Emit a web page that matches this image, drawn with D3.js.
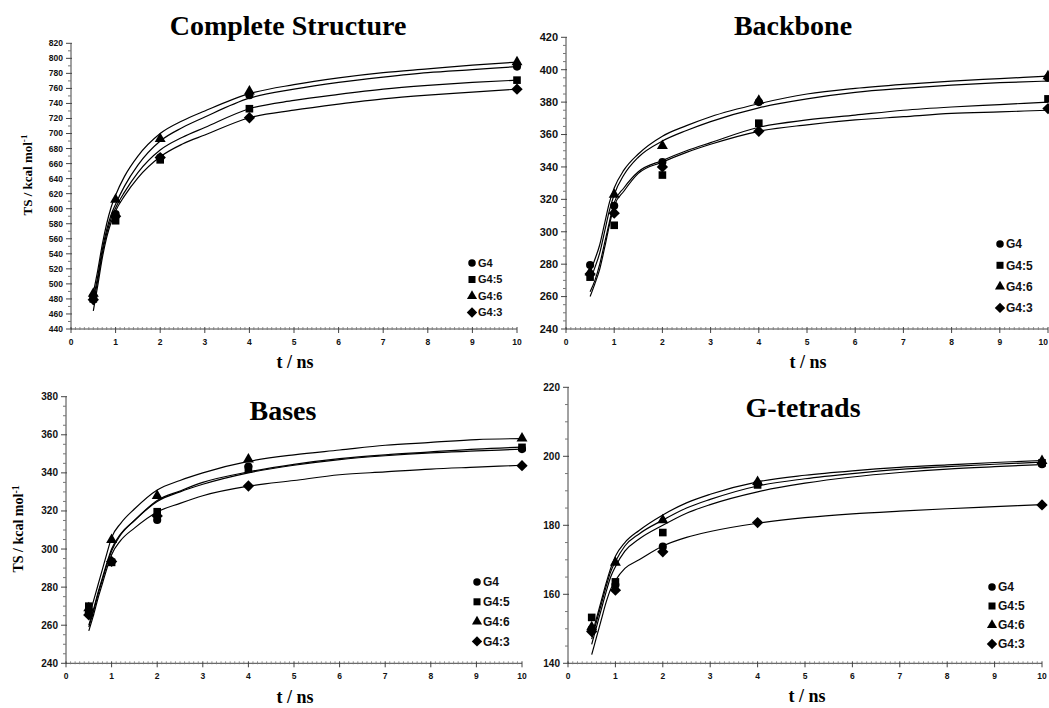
<!DOCTYPE html>
<html>
<head>
<meta charset="utf-8">
<script src="https://cdn.jsdelivr.net/npm/d3@7"></script>
<style>
  html, body { margin: 0; padding: 0; background: #fff; }
  svg { display: block; }
  .tick-label { font-family: "Liberation Sans", Arial, sans-serif; font-weight: bold; fill: #111; }
  .serif { font-family: "Liberation Serif", "Times New Roman", serif; font-weight: bold; fill: #000; }
</style>
</head>
<body>
<script>
// series order everywhere: G4, G4:5, G4:6, G4:3
const seriesNames = ["G4", "G4:5", "G4:6", "G4:3"];
const pointTimes = [0.5, 1, 2, 4, 10];
const fitTimes = [0.5, 0.6, 0.7, 0.8, 0.9, 1, 1.2, 1.5, 2, 2.5, 3, 4, 5, 6, 7, 8, 9, 10];

const completePoints = [
  [483, 593, 668, 751, 789],
  [480, 584, 665, 733, 771],
  [487, 612, 693, 756, 795],
  [479, 590, 668, 721, 759]
];
const completeFits = [
  [480, 510, 545, 572, 592, 606, 630, 658, 690, 708, 722, 747, 759, 768, 775, 781, 785, 789],
  [472, 505, 540, 567, 587, 601, 622, 648, 678, 695, 708, 733, 744, 752, 759, 764, 768, 771],
  [488, 518, 552, 580, 602, 618, 643, 670, 700, 717, 730, 753, 765, 774, 781, 786, 791, 795],
  [464, 498, 534, 562, 582, 597, 617, 641, 669, 686, 698, 721, 731, 739, 746, 751, 755, 759]
];

const backbonePoints = [
  [279.5, 316, 343, 380, 395],
  [272, 304, 335, 367, 382],
  [275, 323, 353, 381, 396],
  [274, 311.5, 340, 362, 376]
];
const backboneFits = [
  [270, 278, 287, 300, 313, 323, 335, 346, 356, 362.5, 368, 376.5, 382, 386, 388.5, 390.5, 392, 393],
  [263, 270, 280, 293, 306, 318, 327, 337, 344, 350, 355, 364.5, 369, 372, 375, 377, 378.5, 380],
  [275, 283, 292, 305, 318, 327, 338, 348, 359, 365.5, 371, 379, 385, 388.5, 391, 393, 394.5, 396],
  [260, 268, 277, 290, 304, 316, 325, 336, 343, 349, 354, 362, 366, 369, 371, 373, 374, 375]
];

const basesPoints = [
  [266.6, 293.4, 315.3, 343.3, 352.5],
  [270, 293, 319.6, 342, 353.4],
  [269, 304.8, 327.9, 347.1, 358.2],
  [265.4, 293.5, 317.4, 333.1, 343.8]
];
const basesFits = [
  [260, 268, 277, 285, 293, 300, 308, 315, 325, 330, 334, 340, 344, 347, 349, 350.5, 351.5, 352.5],
  [259, 267, 276, 284, 292, 299, 307.5, 315, 325.5, 330.5, 335, 340.5, 344.5, 347.5, 349.5, 351, 352.5, 353.5],
  [264, 272.5, 281, 289.5, 298, 306, 313.5, 321, 331, 336, 340, 346, 349.5, 352, 354.5, 356, 357.5, 358],
  [257, 265, 274, 282, 290, 297, 304.5, 311, 319.5, 324, 328, 333, 336, 339, 340.5, 342, 343, 344]
];

const tetradPoints = [
  [149.9, 162.7, 173.8, 192, 197.7],
  [153.3, 163.6, 177.9, 191.7, 198.1],
  [150.5, 169.2, 181.5, 192.6, 198.7],
  [149.2, 161.2, 172.3, 180.8, 185.9]
];
const tetradFits = [
  [145.5, 150.5, 155.5, 160.5, 165, 168, 172.5, 176, 180, 183.5, 186, 189.7, 192.2, 194, 195.3, 196.3, 197, 197.6],
  [147, 152, 157, 162, 166.5, 169.5, 174, 177.5, 181.5, 185, 187.5, 191.4, 193.5, 195, 196.2, 197, 197.7, 198.3],
  [148, 153, 158, 163, 167.5, 171, 175, 178.5, 183, 186.5, 189, 192.6, 194.5, 195.8, 196.8, 197.5, 198.2, 198.8],
  [142.5, 147.5, 152.5, 157.5, 161.5, 164, 167.5, 170, 174, 176.5, 178.2, 180.6, 182.2, 183.3, 184.1, 184.8, 185.4, 186]
];

const W = 1049, H = 708;

const svg = d3.select("body").append("svg")
  .attr("width", W)
  .attr("height", H);

// wide diamond, like the spreadsheet marker
const wideDiamond = {
  draw(ctx, size) {
    const r = Math.sqrt(size / 2);
    ctx.moveTo(0, -r); ctx.lineTo(r, 0); ctx.lineTo(0, r); ctx.lineTo(-r, 0); ctx.closePath();
  }
};
const symbolTypes = [d3.symbolCircle, d3.symbolSquare, d3.symbolTriangle, wideDiamond];
const symbolSizes = [52, 58, 52, 64];

const panels = [
  { title: "Complete Structure", points: completePoints, fits: completeFits,
    x0: 71, x1: 517, yTop: 43.3, yBot: 329, yDomain: [440, 820], major: 20, minor: 10,
    yFont: 8.5, titleX: 288, titleY: 35, xlabY: 368, xlabX: 295, ylab: { x: 27, y: 175, size: 13 },
    legend: { x: 472, y: 263, dy: 16.5, size: 11 } },
  { title: "Backbone", points: backbonePoints, fits: backboneFits,
    x0: 566, x1: 1048, yTop: 37.3, yBot: 329, yDomain: [240, 420], major: 20, minor: 5,
    yFont: 11, titleX: 793, titleY: 35, xlabY: 368, xlabX: 808, ylab: null,
    legend: { x: 1000, y: 244, dy: 21.3, size: 12 } },
  { title: "Bases", points: basesPoints, fits: basesFits,
    x0: 66, x1: 522, yTop: 396.7, yBot: 663.3, yDomain: [240, 380], major: 20, minor: 5,
    yFont: 10, titleX: 283, titleY: 420, xlabY: 703, xlabX: 295, ylab: { x: 18, y: 529, size: 14 },
    legend: { x: 477, y: 582, dy: 19.8, size: 12 } },
  { title: "G-tetrads", points: tetradPoints, fits: tetradFits,
    x0: 568, x1: 1042, yTop: 387.3, yBot: 663.3, yDomain: [140, 220], major: 20, minor: 5,
    yFont: 10, titleX: 803, titleY: 417, xlabY: 702, xlabX: 807, ylab: null,
    legend: { x: 992, y: 587, dy: 19, size: 12 } }
];

panels.forEach((p, pi) => drawPanel(p, pi));

function drawPanel(p, pi) {
  const g = svg.append("g");
  const x = d3.scaleLinear().domain([0, 10]).range([p.x0, p.x1]);
  const y = d3.scaleLinear().domain(p.yDomain).range([p.yBot, p.yTop]);

  // title
  g.append("text").attr("class", "serif")
    .attr("x", p.titleX).attr("y", p.titleY)
    .attr("text-anchor", "middle")
    .style("font-size", "28px")
    .text(p.title);

  // y axis
  const yAxis = g.append("g").attr("transform", `translate(${p.x0},0)`);
  yAxis.append("line").attr("y1", p.yTop).attr("y2", p.yBot).attr("stroke", "#444").attr("stroke-width", 1);
  const minorTicks = d3.range(p.yDomain[0], p.yDomain[1] + 0.001, p.minor).filter(v => v % p.major !== 0);
  yAxis.selectAll("line.minor").data(minorTicks).join("line")
    .attr("class", "minor")
    .attr("x1", -3).attr("x2", 0)
    .attr("y1", d => y(d)).attr("y2", d => y(d))
    .attr("stroke", "#777").attr("stroke-width", 1);
  const majorTicks = d3.range(p.yDomain[0], p.yDomain[1] + 0.001, p.major);
  yAxis.selectAll("line.major").data(majorTicks).join("line")
    .attr("class", "major")
    .attr("x1", -5).attr("x2", 1)
    .attr("y1", d => y(d)).attr("y2", d => y(d))
    .attr("stroke", "#444").attr("stroke-width", 1);
  yAxis.selectAll("text").data(majorTicks).join("text")
    .attr("class", "tick-label")
    .attr("x", -8).attr("y", d => y(d))
    .attr("dy", "0.35em")
    .attr("text-anchor", "end")
    .style("font-size", p.yFont + "px")
    .text(d => d);

  // x axis
  const xAxis = g.append("g").attr("transform", `translate(0,${p.yBot})`);
  xAxis.append("line").attr("x1", p.x0).attr("x2", p.x1).attr("stroke", "#444").attr("stroke-width", 1);
  const xMinor = d3.range(1, 100).filter(v => v % 10 !== 0).map(v => v / 10);
  xAxis.selectAll("line.minor").data(xMinor).join("line")
    .attr("class", "minor")
    .attr("x1", d => x(d)).attr("x2", d => x(d))
    .attr("y1", -2).attr("y2", 1)
    .attr("stroke", "#777").attr("stroke-width", 0.8);
  const xMajor = d3.range(0, 11);
  xAxis.selectAll("line.major").data(xMajor).join("line")
    .attr("class", "major")
    .attr("x1", d => x(d)).attr("x2", d => x(d))
    .attr("y1", -2).attr("y2", 4)
    .attr("stroke", "#444").attr("stroke-width", 1);
  // keep a label that would run past the page edge inside it
  xAxis.selectAll("text").data(xMajor).join("text")
    .attr("class", "tick-label")
    .attr("x", d => x(d)).attr("y", 16)
    .attr("text-anchor", d => x(d) + 6 > W ? "end" : "middle")
    .style("font-size", "8.5px")
    .text(d => d);

  g.append("text").attr("class", "serif")
    .attr("x", p.xlabX).attr("y", p.xlabY)
    .attr("text-anchor", "middle")
    .style("font-size", "18px")
    .attr("xml:space", "preserve")
    .text("t / ns");

  if (p.ylab) {
    const t = g.append("text").attr("class", "serif")
      .attr("transform", `translate(${p.ylab.x},${p.ylab.y}) rotate(-90)`)
      .attr("text-anchor", "middle")
      .attr("dy", "0.35em")
      .style("font-size", p.ylab.size + "px");
    t.append("tspan").text("TS / kcal mol");
    t.append("tspan").attr("dy", "-0.45em").style("font-size", (p.ylab.size * 0.7) + "px").text("-1");
  }

  // fitted curves
  const clipId = "clip" + pi;
  g.append("clipPath").attr("id", clipId)
    .append("rect").attr("x", p.x0).attr("y", p.yTop - 10)
    .attr("width", p.x1 - p.x0 + 5).attr("height", p.yBot - p.yTop + 10);

  const line = d3.line()
    .x(d => x(d[0]))
    .y(d => y(d[1]))
    .curve(d3.curveMonotoneX);

  const curves = g.append("g").attr("clip-path", `url(#${clipId})`);
  p.fits.forEach(vals => {
    const pts = fitTimes.map((t, i) => [t, vals[i]]);
    curves.append("path").attr("d", line(pts))
      .attr("fill", "none").attr("stroke", "#fff").attr("stroke-width", 3.2);
  });
  p.fits.forEach(vals => {
    const pts = fitTimes.map((t, i) => [t, vals[i]]);
    curves.append("path").attr("d", line(pts))
      .attr("fill", "none").attr("stroke", "#000").attr("stroke-width", 1.2);
  });

  // data markers
  p.points.forEach((vals, si) => {
    const sym = d3.symbol().type(symbolTypes[si]).size(symbolSizes[si]);
    g.selectAll(null).data(pointTimes.map((t, i) => [t, vals[i]])).join("path")
      .attr("d", sym)
      .attr("transform", d => `translate(${x(d[0])},${y(d[1])})`)
      .attr("fill", "#000");
  });

  // legend
  const lg = g.append("g");
  seriesNames.forEach((name, si) => {
    const yy = p.legend.y + si * p.legend.dy;
    lg.append("path")
      .attr("d", d3.symbol().type(symbolTypes[si]).size(symbolSizes[si] * 0.85)())
      .attr("transform", `translate(${p.legend.x},${yy})`)
      .attr("fill", "#000");
    lg.append("text").attr("class", "tick-label")
      .attr("x", p.legend.x + 6).attr("y", yy)
      .attr("dy", "0.36em")
      .style("font-size", p.legend.size + "px")
      .text(name);
  });
}
</script>
</body>
</html>
